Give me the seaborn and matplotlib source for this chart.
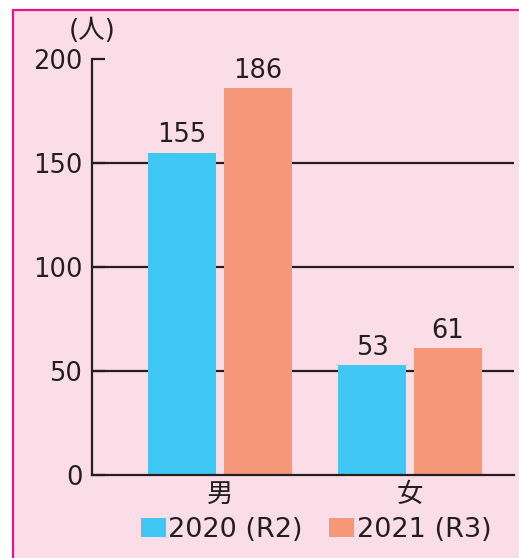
import matplotlib
matplotlib.use("Agg")
import matplotlib.pyplot as plt
import seaborn as sns
import pandas as pd
from matplotlib.patches import Rectangle, Patch

categories = ["男", "女"]
years = ["2020 (R2)", "2021 (R3)"]
values_2020 = [155, 53]
values_2021 = [186, 61]
yticks = [0, 50, 100, 150, 200]

colors = ["#40C8F4", "#F59778"]
ink = "#231F20"

sns.set_theme(style="white")
plt.rcParams['font.family'] = ['DejaVu Sans', 'Noto Sans CJK JP']

df = pd.DataFrame({
    "cat": categories * 2,
    "year": [years[0]] * 2 + [years[1]] * 2,
    "val": values_2020 + values_2021,
})

fig = plt.figure(figsize=(5.19, 5.58), dpi=100)
fig.patch.set_facecolor("white")
panel = Rectangle((13 / 519, -0.05), 1.1, 1 - 10 / 558 + 0.05, transform=fig.transFigure,
                  facecolor="#FBDDE8", edgecolor="#E8148C", linewidth=1.6, zorder=-10)
fig.patches.append(panel)

ax = fig.add_axes([92 / 519, 83 / 558, (514 - 92) / 519, (475 - 59) / 558])
ax.patch.set_alpha(0)

sns.barplot(data=df, x="cat", y="val", hue="year", palette=colors, width=0.8, gap=0.1,
            ax=ax, legend=False, edgecolor="none", saturation=1, zorder=2)

for y in [50, 100, 150]:
    ax.axhline(y, color=ink, linewidth=1.6, zorder=1)

fs = 18.5
for cont in ax.containers:
    ax.bar_label(cont, padding=3, fontsize=fs, color=ink)

ax.set_xlim(-0.674, 1.547)
ax.set_ylim(0, 200)
ax.set_yticks(yticks)
ax.set_yticklabels([str(t) for t in yticks])
ax.set_xlabel("")
ax.set_ylabel("")
for s in ["top", "right"]:
    ax.spines[s].set_visible(False)
for s in ["left", "bottom"]:
    ax.spines[s].set_color(ink)
    ax.spines[s].set_linewidth(1.6)
ax.tick_params(axis="y", direction="in", length=9, width=1.6, color=ink, pad=7,
               labelsize=fs, labelcolor=ink, left=True)
ax.tick_params(axis="x", length=0, pad=4, labelsize=fs, labelcolor=ink)
for lab in ax.get_xticklabels():
    lab.set_fontfamily(['Noto Sans CJK JP'])
    lab.set_fontsize(19)

ax.text(0, 1.035, "(人)", transform=ax.transAxes, ha="center", va="bottom",
        fontsize=19, color=ink, family=['DejaVu Sans', 'Noto Sans CJK JP'])

handles = [Patch(facecolor=c, edgecolor="none", label=l) for c, l in zip(colors, years)]
fig.legend(handles=handles, loc="center", bbox_to_anchor=(316 / 519, 1 - 530 / 558), ncol=2,
           frameon=False, fontsize=19.5, handlelength=0.92, handleheight=0.72,
           handletextpad=0.08, columnspacing=1.0, labelcolor=ink)

fig.savefig("out.png", dpi=100, facecolor="white")
